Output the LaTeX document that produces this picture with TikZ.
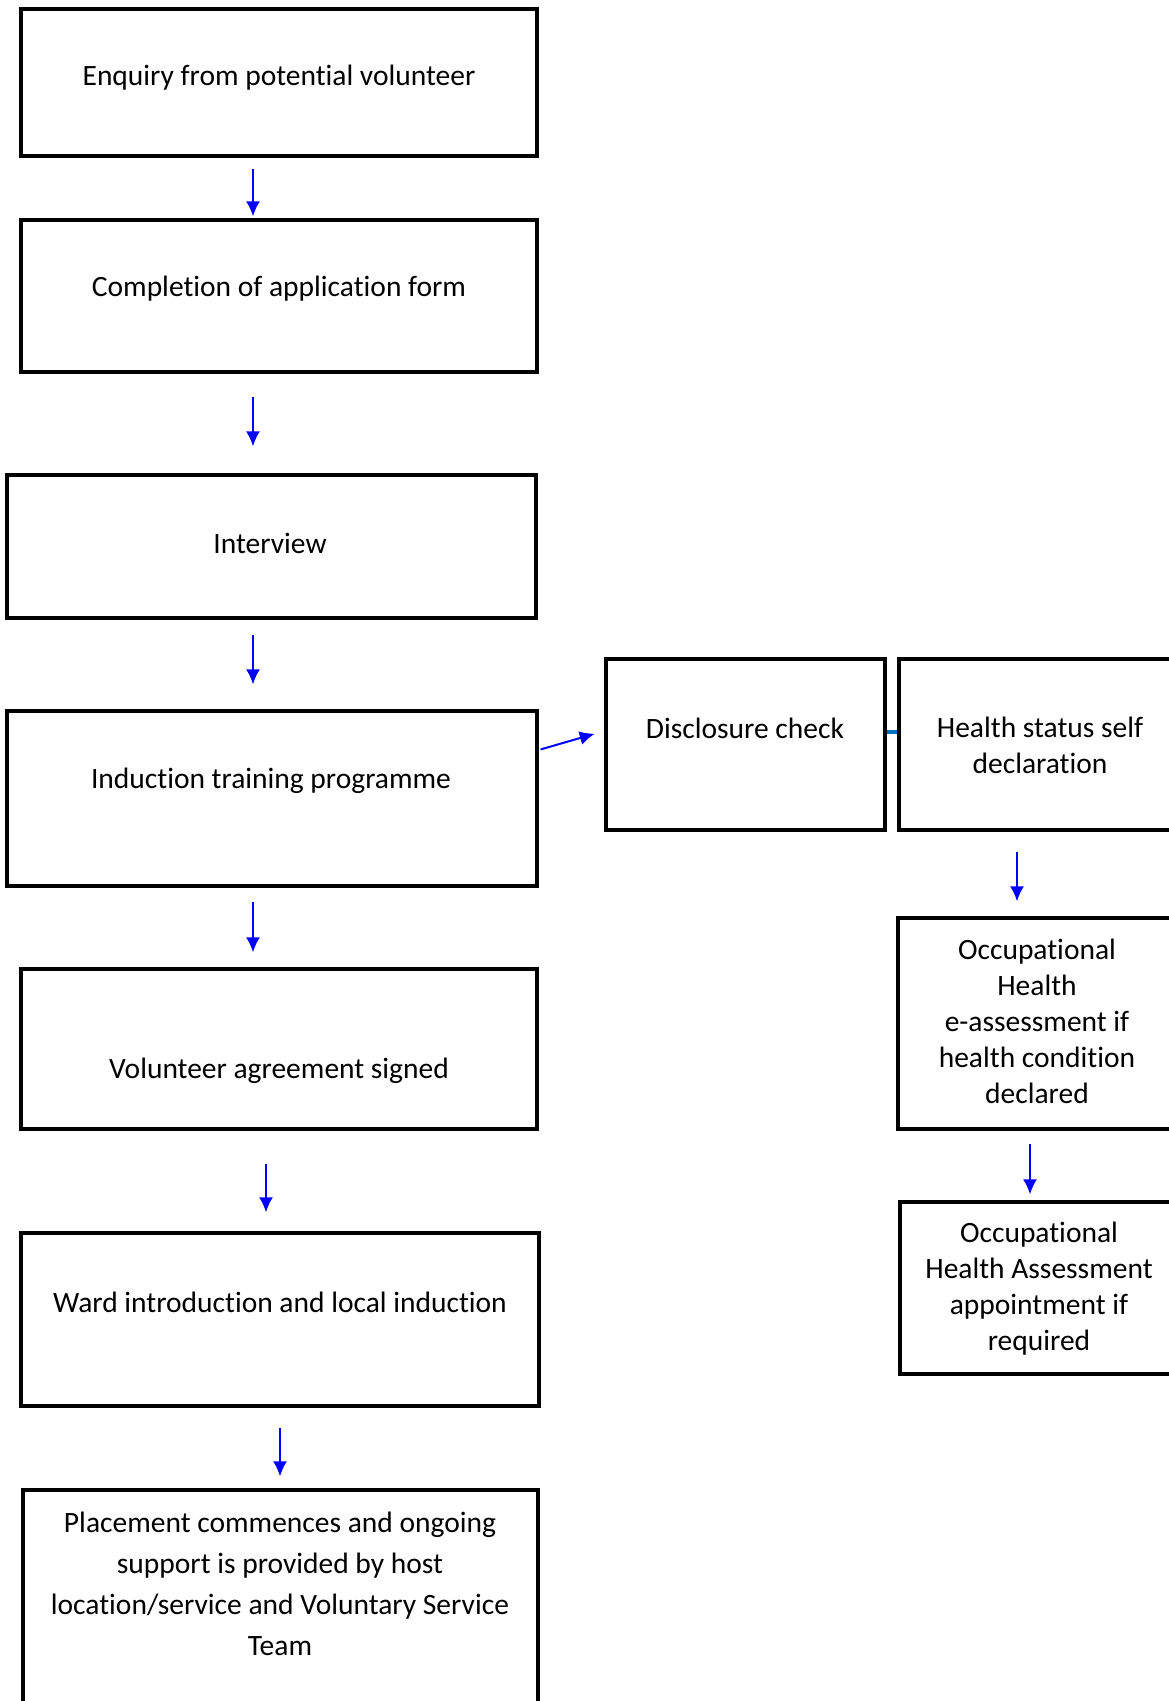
\documentclass[tikz,border=0pt]{standalone}
\usepackage{fontspec}
\setmainfont[Ligatures=NoCommon]{Carlito}
\usetikzlibrary{arrows.meta}
\tikzset{
  box/.style={draw=black, line width=3.3pt, inner sep=0pt},
  txt/.style={align=center, inner sep=0pt, font=\fontsize{29.5}{36}\selectfont},
  arr/.style={-{Latex[length=15pt,width=14pt]}, blue, line width=2pt},
  link/.style={line width=3.5pt, color={rgb,255:red,0;green,112;blue,192}}
}
\begin{document}
\begin{tikzpicture}[x=1pt, y=-1pt]
    \useasboundingbox (0,0) rectangle (1169,1701);
    % Riquadri colonna sinistra
    \node[box, minimum width=516pt, minimum height=147pt] (enquiry) at (279,82.5) {};
    \node[box, minimum width=516pt, minimum height=152pt] (application) at (279,296) {};
    \node[box, minimum width=529pt, minimum height=143pt] (interview) at (271.5,546.5) {};
    \node[box, minimum width=530pt, minimum height=175pt] (induction) at (272,798.5) {};
    \node[box, minimum width=516pt, minimum height=160pt] (agreement) at (279,1049) {};
    \node[box, minimum width=518pt, minimum height=173pt] (ward) at (280,1319.5) {};
    \node[box, minimum width=515pt, minimum height=230pt] (placement) at (280.5,1605) {};

    % Riquadri colonna destra
    \node[box, minimum width=279pt, minimum height=171pt] (disclosure) at (745.5,744.5) {};
    \node[box, minimum width=291pt, minimum height=171pt] (health) at (1044.5,744.5) {};
    \node[box, minimum width=292pt, minimum height=211pt] (ohe) at (1044,1023.5) {};
    \node[box, minimum width=290pt, minimum height=172pt] (oha) at (1045,1288) {};

    % Testi
    \node[txt] (enquiryText) at (279,78) {Enquiry from potential volunteer};
    \node[txt] (applicationText) at (279,289) {Completion of application form};
    \node[txt] (interviewText) at (270,543) {Interview};
    \node[txt] (inductionText) at (271,781) {Induction training programme};
    \node[txt] (agreementText) at (279,1071) {Volunteer agreement signed};
    \node[txt] (wardText) at (280,1302) {Ward introduction and local induction};
    \node[txt, font=\fontsize{29.5}{41}\selectfont] (placementText) at (280,1584)
        {Placement commences and ongoing\\support is provided by host\\location/service and Voluntary Service\\Team};
    \node[txt] (disclosureText) at (745,728) {Disclosure check};
    \node[txt] (healthText) at (1040,745) {Health status self\\declaration};
    \node[txt] (oheText) at (1037,1021) {Occupational\\Health\\e-assessment if\\health condition\\declared};
    \node[txt] (ohaText) at (1039,1289) {Occupational\\Health Assessment\\appointment if\\required};

    % Frecce
    \draw[arr, shorten <=11pt, shorten >=2pt] (enquiry.south -| 253,0) -- (application.north -| 253,0);
    \draw[arr, shorten <=23pt, shorten >=27pt] (application.south -| 253,0) -- (interview.north -| 253,0);
    \draw[arr, shorten <=15pt, shorten >=25pt] (interview.south -| 253,0) -- (induction.north -| 253,0);
    \draw[arr, shorten <=14pt, shorten >=15pt] (induction.south -| 253,0) -- (agreement.north -| 253,0);
    \draw[arr, shorten <=33pt, shorten >=19pt] (agreement.south -| 266,0) -- (ward.north -| 266,0);
    \draw[arr, shorten <=20pt, shorten >=12pt] (ward.south -| 280,0) -- (placement.north -| 280,0);
    \draw[arr, shorten <=2pt, shorten >=10pt] ([yshift=48.5pt]induction.east) -- ([yshift=13.5pt]disclosure.west);
    \draw[link] ([yshift=12.5pt]disclosure.east) -- ([yshift=12.5pt]health.west);
    \draw[arr, shorten <=20pt, shorten >=15pt] (health.south -| 1017,0) -- (ohe.north -| 1017,0);
    \draw[arr, shorten <=13pt, shorten >=6pt] (ohe.south -| 1030,0) -- (oha.north -| 1030,0);
\end{tikzpicture}
\end{document}
